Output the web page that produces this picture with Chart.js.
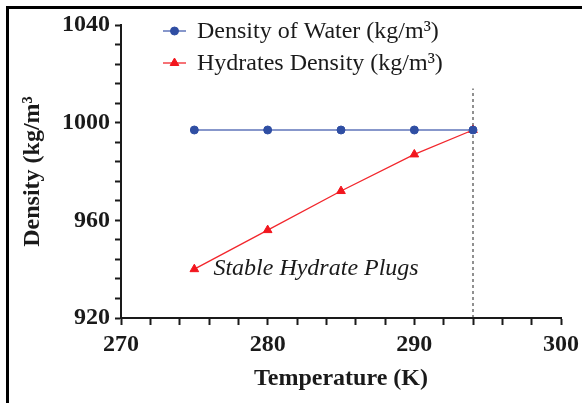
<!DOCTYPE html>
<html>
<head>
<meta charset="utf-8">
<script src="https://cdn.jsdelivr.net/npm/chart.js@4"></script>
<style>
  html, body { margin: 0; padding: 0; background: #fff; }
  #wrap { width: 582px; height: 403px; position: relative; }
</style>
</head>
<body>
<div id="wrap"><canvas id="densidadChart"></canvas></div>
<script>
/* datos */
const temperaturas = [275, 280, 285, 290, 294];
const densidadAgua = [997, 997, 997, 997, 997];
const densidadHidratos = [940, 956, 972, 987, 997];

// limite de estabilidad (linea punteada)
const tempLimite = 294;
const rangoLimite = [920, 1014];

const ticksX = [270, 280, 290, 300];
const ticksY = [920, 960, 1000, 1040];

const serif = "'Liberation Serif', 'Times New Roman', serif";
const negro = '#1a1a1a';

const puntos = (xs, ys) => xs.map((x, i) => ({ x: x, y: ys[i] }));

/* marco + leyenda + texto */
const extras = {
    id: 'extras',
    beforeDraw(chart) {
        const c = chart.ctx;
        c.save();
        c.fillStyle = '#000';
        c.fillRect(6, 6, 576, 3);
        c.fillRect(6, 6, 3, 397);
        c.restore();
    },
    afterDraw(chart) {
        const c = chart.ctx;
        const xs = chart.scales.x;
        const ys = chart.scales.y;
        c.save();

        // leyenda
        const items = chart.data.datasets.filter(d => d.enLeyenda);
        items.forEach((d, i) => {
            const y = 31 + i * 32;
            c.strokeStyle = d.borderColor;
            c.lineWidth = d.borderWidth;
            c.beginPath();
            c.moveTo(163, y);
            c.lineTo(186, y);
            c.stroke();
            c.fillStyle = d.pointBackgroundColor;
            c.strokeStyle = d.pointBorderColor;
            c.lineWidth = 1;
            Chart.helpers.drawPoint(c, {
                pointStyle: d.pointStyle,
                radius: d.pointRadius,
                borderWidth: 1
            }, 174.5, y);
            c.fillStyle = negro;
            c.font = '24px ' + serif;
            c.textBaseline = 'middle';
            c.fillText(d.label, 197, y + 1);
        });

        // zona estable
        c.font = 'italic 24px ' + serif;
        c.fillStyle = negro;
        c.textBaseline = 'middle';
        c.fillText('Stable Hydrate Plugs', xs.getPixelForValue(276.3), ys.getPixelForValue(940));
        c.restore();
    }
};

const ctx = document.getElementById('densidadChart').getContext('2d');
const grafico = new Chart(ctx, {
    type: 'line',
    data: {
        datasets: [{
            label: 'Density of Water (kg/m³)',
            enLeyenda: true,
            data: puntos(temperaturas, densidadAgua),
            borderColor: 'rgba(70, 95, 175, 0.65)',
            borderWidth: 2,
            pointStyle: 'circle',
            pointRadius: 4,
            pointBackgroundColor: '#2f4ea3',
            pointBorderColor: '#2f4ea3',
            pointBorderWidth: 1
        },
        {
            label: 'Hydrates Density (kg/m³)',
            enLeyenda: true,
            data: puntos(temperaturas, densidadHidratos),
            borderColor: '#f2262c',
            borderWidth: 1.3,
            pointStyle: 'triangle',
            pointRadius: 5,
            pointBackgroundColor: '#f2161e',
            pointBorderColor: '#f2161e',
            pointBorderWidth: 1
        },
        {
            label: 'limite',
            data: rangoLimite.map(v => ({ x: tempLimite, y: v })),
            borderColor: '#222',
            borderWidth: 1,
            borderDash: [3, 3],
            pointRadius: 0
        }]
    },
    options: {
        responsive: true,
        maintainAspectRatio: false,
        animation: false,
        layout: {
            padding: { left: 0, right: 21, top: 25, bottom: 0 }
        },
        plugins: {
            legend: { display: false },
            tooltip: { enabled: false }
        },
        scales: {
            x: {
                type: 'linear',
                min: 270,
                max: 300,
                afterFit: s => {
                    s.height = 85;
                    s.paddingLeft = 0;
                    s.paddingRight = 0;
                },
                ticks: {
                    stepSize: 2,
                    autoSkip: false,
                    maxRotation: 0,
                    padding: 5,
                    color: negro,
                    font: { family: serif, size: 24, weight: 'bold' },
                    callback: v => ticksX.includes(v) ? v : ''
                },
                grid: {
                    drawOnChartArea: false,
                    tickLength: 7,
                    tickWidth: 2,
                    tickColor: negro
                },
                border: { color: negro, width: 2 },
                title: {
                    display: true,
                    text: 'Temperature (K)',
                    color: negro,
                    font: { family: serif, size: 24, weight: 'bold' },
                    padding: { top: 0, bottom: 10 }
                }
            },
            y: {
                min: 920,
                max: 1040,
                afterFit: s => { s.width = 121; },
                ticks: {
                    stepSize: 8,
                    autoSkip: false,
                    padding: 5,
                    color: negro,
                    font: { family: serif, size: 24, weight: 'bold' },
                    callback: v => ticksY.includes(v) ? v : ''
                },
                grid: {
                    drawOnChartArea: false,
                    tickLength: 6,
                    tickWidth: 2,
                    tickColor: negro
                },
                border: { color: negro, width: 2 },
                title: {
                    display: true,
                    text: 'Density (kg/m³',
                    color: negro,
                    font: { family: serif, size: 24, weight: 'bold' },
                    padding: { top: 18, bottom: 0 }
                }
            }
        }
    },
    plugins: [extras]
});
</script>
</body>
</html>
